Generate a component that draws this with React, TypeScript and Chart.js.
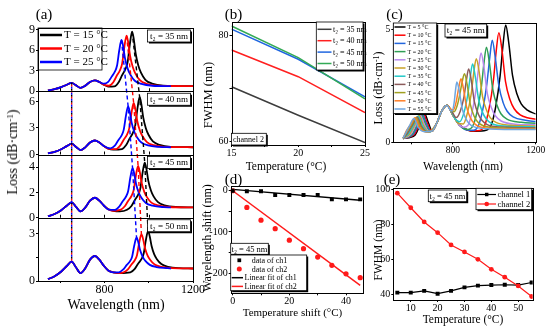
import { useEffect, useRef } from 'react';
import { Chart, registerables } from 'chart.js';

Chart.register(...registerables);

const SERIF = "'Liberation Serif', 'Times New Roman', 'DejaVu Serif', serif";
Chart.defaults.font.family = SERIF;
Chart.defaults.color = '#000';

type Pt = [number, number];

// ---------------- Panel (a): loss spectra, four t2 values ----------------
const aLegendLabels = ['T = 15 °C', 'T = 20 °C', 'T = 25 °C'];
const aColors = ['#000000', '#ff0000', '#0000ff'];
const aT2Labels = ['t₂ = 35 nm', 't₂ = 40 nm', 't₂ = 45 nm', 't₂ = 50 nm'];
const aXTicks = [600, 800, 1000, 1200];
const aXLabels = [800, 1200];
const aYMin = [0, 0, 0, 0];
const aYMax = [9.2, 7.15, 5, 4];
const aYTicks = [[0, 3, 6, 9], [0, 3, 6], [0, 2, 4], [0, 1.5, 3]];
const aYLabels = [[0, 3, 6, 9], [0, 3, 6], [0, 2, 4], [0, 3]];

// shared short-wavelength part (channel 1 region)
const aLow: Pt[] = [[545, 0.12], [575, 0.3], [605, 0.6], [630, 0.95], [652, 1.22], [672, 0.85], [692, 0.5], [712, 0.78], [735, 1.35], [757, 1.58], [777, 1.35], [797, 0.97], [817, 0.67], [840, 0.55], [870, 0.5]];

const a35_15: Pt[] = [[845, 0.71], [865, 1.36], [880, 2.34], [895, 3.23], [905, 4.29], [915, 6.88], [925, 8.67], [933, 7.48], [941, 5.49], [953, 3.74], [965, 2.71], [985, 1.67], [1015, 1.12], [1065, 0.82], [1200, 0.74]];
const a35_20: Pt[] = [[820, 0.8], [840, 1.31], [855, 2.21], [870, 3.04], [880, 4.02], [890, 6.44], [900, 8.1], [908, 6.99], [916, 5.15], [928, 3.52], [940, 2.57], [960, 1.61], [990, 1.09], [1040, 0.8], [1200, 0.74]];
const a35_25: Pt[] = [[797, 1.1], [817, 1.36], [832, 2.09], [847, 2.84], [857, 3.74], [867, 5.96], [877, 7.48], [885, 6.47], [893, 4.78], [905, 3.29], [917, 2.41], [937, 1.53], [967, 1.06], [1017, 0.8], [1100, 0.74]];

const a40_15: Pt[] = [[879, 0.62], [899, 1.1], [914, 1.82], [929, 2.48], [939, 3.26], [949, 5.18], [959, 6.5], [967, 5.65], [975, 4.22], [987, 2.97], [999, 2.23], [1019, 1.48], [1049, 1.09], [1099, 0.87], [1200, 0.82]];
const a40_20: Pt[] = [[852, 0.61], [872, 1.03], [887, 1.67], [902, 2.26], [912, 2.95], [922, 4.66], [932, 5.83], [940, 5.08], [948, 3.82], [960, 2.71], [972, 2.06], [992, 1.4], [1022, 1.05], [1072, 0.86], [1200, 0.82]];
const a40_25: Pt[] = [[827, 0.7], [847, 1.0], [862, 1.59], [877, 2.13], [887, 2.78], [897, 4.36], [907, 5.45], [915, 4.75], [923, 3.59], [935, 2.57], [947, 1.96], [967, 1.36], [997, 1.03], [1047, 0.86], [1100, 0.82]];

const a45_15: Pt[] = [[902, 0.63], [922, 0.93], [937, 1.39], [952, 1.81], [962, 2.3], [972, 3.52], [982, 4.36], [990, 3.83], [998, 2.94], [1010, 2.15], [1022, 1.69], [1042, 1.23], [1072, 0.98], [1122, 0.85], [1200, 0.82]];
const a45_20: Pt[] = [[872, 0.62], [892, 0.91], [907, 1.33], [922, 1.72], [932, 2.18], [942, 3.32], [952, 4.1], [960, 3.6], [968, 2.78], [980, 2.05], [992, 1.63], [1012, 1.2], [1042, 0.97], [1092, 0.85], [1200, 0.82]];
const a45_25: Pt[] = [[847, 0.62], [867, 0.89], [882, 1.29], [897, 1.66], [907, 2.1], [917, 3.18], [927, 3.92], [935, 3.45], [943, 2.67], [955, 1.99], [967, 1.58], [987, 1.17], [1017, 0.96], [1067, 0.84], [1100, 0.82]];

const a50_15: Pt[] = [[917, 0.55], [937, 0.77], [952, 1.09], [967, 1.38], [977, 1.72], [987, 2.57], [997, 3.16], [1005, 2.8], [1013, 2.21], [1025, 1.68], [1037, 1.38], [1057, 1.07], [1087, 0.9], [1137, 0.81], [1200, 0.79]];
const a50_20: Pt[] = [[887, 0.55], [907, 0.75], [922, 1.04], [937, 1.31], [947, 1.63], [957, 2.42], [967, 2.96], [975, 2.63], [983, 2.09], [995, 1.61], [1007, 1.33], [1027, 1.04], [1057, 0.89], [1107, 0.81], [1200, 0.79]];
const a50_25: Pt[] = [[865, 0.55], [885, 0.73], [900, 1.0], [915, 1.24], [925, 1.54], [935, 2.26], [945, 2.75], [953, 2.45], [961, 1.96], [973, 1.53], [985, 1.27], [1005, 1.02], [1035, 0.88], [1085, 0.81], [1100, 0.79]];

const aCurves: Pt[][][] = [
  [a35_15, a35_20, a35_25],
  [a40_15, a40_20, a40_25],
  [a45_15, a45_20, a45_25],
  [a50_15, a50_20, a50_25],
];

// ---------------- Panel (b): FWHM vs temperature ----------------
const bTemps = [15, 20, 25];
const bT2_35 = [70.3, 64.9, 59.7];
const bT2_40 = [77.25, 72.2, 65.4];
const bT2_45 = [81.2, 75.5, 68.4];
const bT2_50 = [81.8, 75.8, 68.0];
const bLabels = ['t₂ = 35 nm', 't₂ = 40 nm', 't₂ = 45 nm', 't₂ = 50 nm'];
const bColors = ['#3d3d3d', '#ff2020', '#1f66e0', '#33aa55'];

// ---------------- Panel (c): loss spectra, t2 = 45 nm ----------------
const cLabels = ['T = 5 °C', 'T = 10 °C', 'T = 15 °C', 'T = 20 °C', 'T = 25 °C', 'T = 30 °C', 'T = 35 °C', 'T = 40 °C', 'T = 45 °C', 'T = 50 °C', 'T = 55 °C'];
const cColors = ['#000000', '#ff0000', '#2266dd', '#2f9e55', '#b888ee', '#c9a227', '#22c8c8', '#8b5a5a', '#a0a020', '#ff7f27', '#6ea6e0'];
const cT5: Pt[] = [[559, 0.17], [617, 0.32], [642, 0.8], [662, 1.28], [682, 0.85], [700, 0.5], [722, 0.85], [746, 1.38], [771, 1.64], [800, 1.2], [830, 0.78], [870, 0.54], [910, 0.49], [960, 0.53], [985, 0.76], [1007, 1.58], [1028, 2.92], [1042, 4.29], [1055, 5.18], [1070, 4.38], [1088, 2.95], [1110, 2.12], [1130, 1.7], [1160, 1.42], [1200, 1.25]];
const cT10: Pt[] = [[559, 0.17], [612, 0.33], [637, 0.8], [657, 1.27], [677, 0.83], [697, 0.49], [722, 0.85], [746, 1.38], [771, 1.64], [800, 1.2], [830, 0.78], [870, 0.54], [900, 0.5], [929, 0.52], [953, 0.74], [975, 1.5], [996, 2.75], [1009, 4.01], [1022, 4.84], [1037, 4.07], [1054, 2.69], [1076, 1.88], [1096, 1.48], [1125, 1.21], [1160, 1.08], [1200, 1.02]];
const cT15: Pt[] = [[559, 0.17], [607, 0.34], [632, 0.8], [652, 1.25], [672, 0.82], [694, 0.48], [722, 0.85], [746, 1.38], [771, 1.64], [800, 1.2], [830, 0.78], [870, 0.54], [899, 0.53], [923, 0.73], [944, 1.43], [964, 2.58], [978, 3.74], [990, 4.5], [1004, 3.78], [1022, 2.5], [1043, 1.74], [1062, 1.37], [1091, 1.12], [1150, 0.97], [1200, 0.92]];
const cT20: Pt[] = [[559, 0.17], [602, 0.35], [627, 0.8], [647, 1.23], [667, 0.8], [690, 0.47], [722, 0.85], [746, 1.38], [771, 1.64], [800, 1.2], [830, 0.78], [850, 0.62], [873, 0.57], [896, 0.72], [917, 1.36], [937, 2.41], [950, 3.49], [962, 4.2], [976, 3.53], [993, 2.32], [1014, 1.61], [1032, 1.26], [1061, 1.02], [1130, 0.88], [1200, 0.84]];
const cT25: Pt[] = [[559, 0.17], [597, 0.36], [622, 0.8], [642, 1.2], [662, 0.78], [686, 0.47], [722, 0.85], [746, 1.38], [771, 1.64], [800, 1.2], [830, 0.78], [849, 0.66], [872, 0.74], [892, 1.31], [911, 2.28], [924, 3.28], [936, 3.94], [950, 3.31], [966, 2.16], [987, 1.5], [1005, 1.17], [1033, 0.94], [1100, 0.8], [1200, 0.77]];
const cT30: Pt[] = [[559, 0.17], [592, 0.38], [617, 0.8], [637, 1.18], [657, 0.76], [682, 0.47], [722, 0.85], [746, 1.38], [771, 1.64], [800, 1.2], [827, 0.83], [850, 0.81], [870, 1.29], [889, 2.17], [901, 3.09], [913, 3.69], [927, 3.1], [943, 2.03], [963, 1.4], [980, 1.09], [1008, 0.88], [1080, 0.75], [1200, 0.72]];
const cT35: Pt[] = [[559, 0.17], [587, 0.4], [612, 0.8], [632, 1.15], [652, 0.74], [678, 0.47], [700, 0.5], [722, 0.85], [746, 1.38], [771, 1.64], [795, 1.33], [811, 1.03], [833, 0.91], [853, 1.3], [871, 2.06], [884, 2.9], [895, 3.46], [908, 2.9], [924, 1.9], [943, 1.32], [961, 1.03], [987, 0.83], [1060, 0.71], [1200, 0.68]];
const cT40: Pt[] = [[559, 0.17], [582, 0.42], [607, 0.8], [627, 1.12], [647, 0.72], [674, 0.47], [700, 0.5], [722, 0.85], [746, 1.38], [771, 1.64], [794, 1.38], [816, 1.09], [835, 1.36], [853, 1.98], [865, 2.73], [876, 3.24], [889, 2.72], [904, 1.78], [923, 1.24], [940, 0.97], [966, 0.78], [1040, 0.67], [1200, 0.64]];
const cT45: Pt[] = [[559, 0.18], [577, 0.45], [602, 0.8], [622, 1.1], [642, 0.7], [670, 0.47], [700, 0.5], [722, 0.85], [746, 1.38], [771, 1.64], [790, 1.45], [806, 1.35], [820, 1.6], [833, 2.1], [845, 2.68], [856, 3.02], [869, 2.54], [884, 1.67], [902, 1.16], [919, 0.91], [944, 0.74], [1020, 0.64], [1200, 0.61]];
const cT50: Pt[] = [[559, 0.18], [575, 0.5], [597, 0.8], [617, 1.08], [637, 0.68], [666, 0.47], [700, 0.5], [722, 0.85], [746, 1.38], [771, 1.64], [789, 1.46], [802, 1.42], [815, 1.75], [828, 2.4], [839, 2.8], [851, 2.36], [866, 1.56], [884, 1.09], [900, 0.86], [925, 0.7], [1000, 0.61], [1200, 0.58]];
const cT55: Pt[] = [[559, 0.18], [590, 0.72], [612, 1.05], [632, 0.66], [662, 0.47], [700, 0.5], [722, 0.85], [746, 1.38], [771, 1.64], [785, 1.45], [796, 1.38], [806, 1.75], [812, 2.25], [819, 2.66], [831, 2.24], [845, 1.48], [863, 1.04], [879, 0.82], [903, 0.68], [980, 0.59], [1200, 0.56]];
const cCurves: Pt[][] = [cT5, cT10, cT15, cT20, cT25, cT30, cT35, cT40, cT45, cT50, cT55];

// ---------------- Panel (d): wavelength shift ----------------
const dShift = [0, 5, 10, 15, 20, 25, 30, 35, 40, 45];
const dCh1 = [0, -1, -1, -10.5, -10.5, -10.5, -10.5, -21, -21, -21];
const dCh2 = [0, -40.5, -71.5, -92, -120, -140.6, -161, -181, -201.6, -211];
const dFitX = [0, 45];
const dFitCh1 = [3.3, -22.8];
const dFitCh2 = [0, -230];

// ---------------- Panel (e): FWHM of both channels ----------------
const eTemps = [5, 10, 15, 20, 25, 30, 35, 40, 45, 50, 55];
const eCh1 = [41, 41, 42, 40.4, 42, 44, 45, 45.3, 45.5, 45.3, 46.8];
const eCh2 = [97.7, 89.4, 81.3, 75.2, 68.2, 64.2, 60, 54.3, 49.8, 44.8, 38.8];

// ---------------- helpers ----------------
const toXY = (pts: Pt[]) => pts.map(([x, y]) => ({ x, y }));
const zipXY = (xs: number[], ys: number[]) => xs.map((x, i) => ({ x, y: ys[i] }));
const peakOf = (pts: Pt[]): Pt => pts.reduce((m, p) => (p[1] > m[1] ? p : m), pts[0]);
const combine = (low: Pt[], main: Pt[]) => low.filter((p) => p[0] < main[0][0] - 15).concat(main);
const font = (s: number) => `${s}px ${SERIF}`;

function axis(o: { min: number; max: number; ticks: number[]; labels: number[]; size: number; font: number; horizontal: boolean }) {
  return {
    type: 'linear' as const,
    min: o.min,
    max: o.max,
    afterBuildTicks: (ax: any) => {
      ax.ticks = o.ticks.map((v) => ({ value: v }));
    },
    afterFit: (ax: any) => {
      if (o.horizontal) ax.height = o.size;
      else ax.width = o.size;
      ax.paddingTop = 0;
      ax.paddingBottom = 0;
      ax.paddingLeft = 0;
      ax.paddingRight = 0;
    },
    ticks: {
      autoSkip: false,
      maxRotation: 0,
      minRotation: 0,
      padding: o.horizontal ? 0 : 1,
      font: { family: SERIF, size: o.font },
      color: '#000',
      callback: (v: any) => (o.labels.includes(Number(v)) ? String(v) : ''),
    },
    grid: { drawOnChartArea: false, drawTicks: true, tickLength: 2, color: '#000', lineWidth: 1 },
    border: { display: false },
  };
}

function base(padTop: number, padRight: number) {
  return {
    animation: false as const,
    responsive: false,
    maintainAspectRatio: false,
    devicePixelRatio: 1,
    events: [] as any[],
    layout: { padding: { top: padTop, right: padRight, bottom: 0, left: 0 } },
    plugins: { legend: { display: false }, tooltip: { enabled: false }, title: { display: false } },
  };
}

function frameRect(ctx: CanvasRenderingContext2D, l: number, t: number, r: number, b: number) {
  ctx.save();
  ctx.strokeStyle = '#000';
  ctx.lineWidth = 1;
  ctx.setLineDash([]);
  const L = Math.round(l), T = Math.round(t), R = Math.round(r), B = Math.round(b);
  ctx.strokeRect(L + 0.5, T + 0.5, R - L, B - T);
  ctx.restore();
}

type Box = { x: number; y: number; w: number; h: number; shadow?: boolean; fill?: boolean };
type TextBox = Box & { text: string; size: number; align?: 'left' | 'center'; pad?: number };
type LegendItem = { text: string; color: string; line?: boolean; marker?: 'rect' | 'circle'; textX?: number };
type Legend = { box?: Box; items: LegendItem[]; rowY: number[]; sx0: number; sx1: number; mx: number; tx: number; size: number; lineWidth: number; markerR?: number };

function drawBox(ctx: CanvasRenderingContext2D, b: Box) {
  ctx.save();
  ctx.setLineDash([]);
  if (b.shadow) {
    ctx.fillStyle = '#000';
    ctx.fillRect(b.x + 1.5, b.y + 1.5, b.w, b.h);
  }
  if (b.fill !== false) {
    ctx.fillStyle = '#fff';
    ctx.fillRect(b.x, b.y, b.w, b.h);
  }
  ctx.strokeStyle = '#000';
  ctx.lineWidth = 0.8;
  ctx.strokeRect(b.x, b.y, b.w, b.h);
  ctx.restore();
}

function drawTextBox(ctx: CanvasRenderingContext2D, tb: TextBox) {
  drawBox(ctx, tb);
  ctx.save();
  ctx.fillStyle = '#000';
  ctx.font = font(tb.size);
  ctx.textBaseline = 'middle';
  if (tb.align === 'left') {
    ctx.textAlign = 'left';
    ctx.fillText(tb.text, tb.x + (tb.pad ?? 2), tb.y + tb.h / 2 + 0.5);
  } else {
    ctx.textAlign = 'center';
    ctx.fillText(tb.text, tb.x + tb.w / 2, tb.y + tb.h / 2 + 0.5);
  }
  ctx.restore();
}

function drawLegend(ctx: CanvasRenderingContext2D, L: Legend) {
  if (L.box) drawBox(ctx, L.box);
  ctx.save();
  ctx.setLineDash([]);
  ctx.font = font(L.size);
  ctx.textBaseline = 'middle';
  ctx.textAlign = 'left';
  L.items.forEach((it, i) => {
    const y = L.rowY[i];
    if (it.line) {
      ctx.strokeStyle = it.color;
      ctx.lineWidth = L.lineWidth;
      ctx.beginPath();
      ctx.moveTo(L.sx0, y);
      ctx.lineTo(L.sx1, y);
      ctx.stroke();
    }
    if (it.marker) {
      const r = L.markerR ?? 2.5;
      ctx.fillStyle = it.color;
      ctx.beginPath();
      if (it.marker === 'rect') ctx.rect(L.mx - r * 0.75, y - r * 0.75, r * 1.5, r * 1.5);
      else ctx.arc(L.mx, y, r, 0, Math.PI * 2);
      ctx.fill();
    }
    ctx.fillStyle = '#000';
    ctx.fillText(it.text, it.textX ?? L.tx, y + 0.5);
  });
  ctx.restore();
}

function decor(spec: { boxes?: TextBox[]; legend?: Legend }) {
  return {
    id: 'decor',
    afterDraw(chart: any) {
      const ca = chart.chartArea;
      frameRect(chart.ctx, ca.left, ca.top, ca.right, ca.bottom);
      (spec.boxes || []).forEach((b) => drawTextBox(chart.ctx, b));
      if (spec.legend) drawLegend(chart.ctx, spec.legend);
    },
  };
}

// ---------------- charts ----------------
function makeA(canvas: HTMLCanvasElement) {
  const datasets = aCurves.flatMap((set, s) =>
    set.map((main, c) => ({
      data: toXY(combine(aLow, main)),
      xAxisID: 'x',
      yAxisID: 'y' + s,
      borderColor: aColors[c],
      backgroundColor: aColors[c],
      borderWidth: 1.8,
      pointRadius: 0,
      fill: false,
      cubicInterpolationMode: 'monotone' as const,
      order: 2 - c,
    }))
  );
  const scales: any = {
    x: { ...axis({ min: 500, max: 1200, ticks: aXTicks, labels: aXLabels, size: 19, font: 12, horizontal: true }), position: 'bottom' },
  };
  aCurves.forEach((_, s) => {
    scales['y' + s] = {
      ...axis({ min: aYMin[s], max: aYMax[s], ticks: aYTicks[s], labels: aYLabels[s], size: 38, font: 12, horizontal: false }),
      position: 'left',
      stack: 'a',
      stackWeight: 1,
      weight: 4 - s,
    };
  });
  const plugin = {
    id: 'aDecor',
    afterDatasetsDraw(chart: any) {
      const ctx: CanvasRenderingContext2D = chart.ctx;
      const xs = chart.scales.x;
      ctx.save();
      ctx.lineWidth = 1.4;
      ctx.setLineDash([4, 3]);
      aColors.forEach((col, c) => {
        ctx.strokeStyle = col;
        ctx.beginPath();
        aCurves.forEach((set, s) => {
          const [px, py] = peakOf(set[c]);
          const X = xs.getPixelForValue(px);
          const Y = chart.scales['y' + s].getPixelForValue(py);
          if (s === 0) ctx.moveTo(X, Y);
          else ctx.lineTo(X, Y);
        });
        ctx.stroke();
      });
      const sp = peakOf(aLow.filter((p) => p[0] < 700));
      const X = xs.getPixelForValue(sp[0]);
      const Y0 = chart.scales.y0.getPixelForValue(sp[1]);
      const Y3 = chart.scales.y3.getPixelForValue(sp[1]);
      ctx.setLineDash([2, 4]);
      aColors.forEach((col, c) => {
        ctx.strokeStyle = col;
        ctx.lineDashOffset = -2 * c;
        ctx.beginPath();
        ctx.moveTo(X, Y0);
        ctx.lineTo(X, Y3);
        ctx.stroke();
      });
      ctx.restore();
    },
    afterDraw(chart: any) {
      const ctx: CanvasRenderingContext2D = chart.ctx;
      const ca = chart.chartArea;
      const xs = chart.scales.x;
      aCurves.forEach((_, s) => {
        const ys = chart.scales['y' + s];
        frameRect(ctx, ca.left, ys.top, ca.right, ys.bottom);
        if (s < 3) {
          ctx.save();
          ctx.strokeStyle = '#000';
          ctx.lineWidth = 1;
          ctx.beginPath();
          aXTicks.forEach((v) => {
            const X = Math.round(xs.getPixelForValue(v)) + 0.5;
            ctx.moveTo(X, ys.bottom);
            ctx.lineTo(X, ys.bottom - 3);
          });
          ctx.stroke();
          ctx.restore();
        }
        drawTextBox(ctx, { x: ca.right - 45.5, y: ys.top + 2, w: 43, h: 12, text: aT2Labels[s], size: 9, shadow: true });
      });
      drawLegend(ctx, {
        box: { x: ca.left, y: ca.top, w: 64, h: 42, shadow: false, fill: false },
        items: aLegendLabels.map((t, i) => ({ text: t, color: aColors[i], line: true })),
        rowY: [35, 48.5, 62],
        sx0: ca.left + 2,
        sx1: ca.left + 24,
        mx: 0,
        tx: ca.left + 26,
        size: 11,
        lineWidth: 2.5,
      });
    },
  };
  return new Chart(canvas, { type: 'line', data: { datasets }, options: { ...base(28, 22), scales } as any, plugins: [plugin] });
}

function makeB(canvas: HTMLCanvasElement) {
  const series = [bT2_35, bT2_40, bT2_45, bT2_50];
  const datasets = series.map((arr, i) => ({
    data: zipXY(bTemps, arr),
    borderColor: bColors[i],
    backgroundColor: bColors[i],
    borderWidth: 1.5,
    pointRadius: 0,
    fill: false,
    tension: 0,
    order: 3 - i,
  }));
  return new Chart(canvas, {
    type: 'line',
    data: { datasets },
    options: {
      ...base(22, 7),
      scales: {
        x: axis({ min: 15, max: 25, ticks: [15, 17.5, 20, 22.5, 25], labels: [15, 20, 25], size: 20, font: 10, horizontal: true }),
        y: axis({ min: 59.26, max: 82.56, ticks: [60, 70, 80], labels: [60, 80], size: 31.5, font: 10, horizontal: false }),
      },
    } as any,
    plugins: [
      decor({
        boxes: [{ x: 31.5, y: 133.3, w: 34.8, h: 11.7, text: 'channel 2', size: 8, align: 'left', pad: 1.5, shadow: true }],
        legend: {
          box: { x: 116.3, y: 22, w: 46.7, h: 48, shadow: true },
          items: bLabels.map((t, i) => ({ text: t, color: bColors[i], line: true })),
          rowY: [29.3, 40.7, 52.1, 63.5],
          sx0: 117.5,
          sx1: 131.5,
          mx: 0,
          tx: 133,
          size: 8,
          lineWidth: 1.5,
        },
      }),
    ],
  });
}

function makeC(canvas: HTMLCanvasElement) {
  const datasets = cCurves.map((pts, i) => ({
    data: toXY(pts),
    borderColor: cColors[i],
    backgroundColor: cColors[i],
    borderWidth: 1.5,
    pointRadius: 0,
    fill: false,
    cubicInterpolationMode: 'monotone' as const,
    order: cCurves.length - 1 - i,
  }));
  return new Chart(canvas, {
    type: 'line',
    data: { datasets },
    options: {
      ...base(23, 14.3),
      scales: {
        x: axis({ min: 512, max: 1200, ticks: [600, 800, 1000, 1200], labels: [800, 1200], size: 22.7, font: 9.5, horizontal: true }),
        y: axis({ min: 0, max: 5.265, ticks: [0, 2.5, 5], labels: [0, 5], size: 23.3, font: 9.5, horizontal: false }),
      },
    } as any,
    plugins: [
      decor({
        boxes: [{ x: 75, y: 24, w: 41.7, h: 13, text: 't₂ = 45 nm', size: 9, shadow: true }],
        legend: {
          box: { x: 23.3, y: 23, w: 43.4, h: 90.5, shadow: true },
          items: cLabels.map((t, i) => ({ text: t, color: cColors[i], line: true })),
          rowY: cLabels.map((_, i) => 27 + i * 8.2),
          sx0: 24.5,
          sx1: 35.5,
          mx: 0,
          tx: 37.5,
          size: 6,
          lineWidth: 1.5,
        },
      }),
    ],
  });
}

function makeD(canvas: HTMLCanvasElement) {
  const datasets = [
    { data: zipXY(dShift, dCh1), showLine: false, pointStyle: 'rect', pointRadius: 2.8, backgroundColor: '#000', borderColor: '#000', borderWidth: 0, order: 0 },
    { data: zipXY(dShift, dCh2), showLine: false, pointStyle: 'circle', pointRadius: 2.6, backgroundColor: '#ff1a1a', borderColor: '#ff1a1a', borderWidth: 0, order: 0 },
    { data: zipXY(dFitX, dFitCh1), borderColor: '#000', backgroundColor: '#000', borderWidth: 1.5, pointRadius: 0, fill: false, order: 1 },
    { data: zipXY(dFitX, dFitCh2), borderColor: '#ff1a1a', backgroundColor: '#ff1a1a', borderWidth: 1.5, pointRadius: 0, fill: false, order: 1 },
  ];
  return new Chart(canvas, {
    type: 'line',
    data: { datasets } as any,
    options: {
      ...base(10, 8.7),
      scales: {
        x: axis({ min: -0.7, max: 46.1, ticks: [0, 10, 20, 30, 40], labels: [0, 20, 40], size: 36.7, font: 10, horizontal: true }),
        y: axis({ min: -249, max: 11.5, ticks: [-200, -150, -100, -50, 0], labels: [-200, -100, 0], size: 30.7, font: 10, horizontal: false }),
      },
    } as any,
    plugins: [
      decor({
        boxes: [{ x: 30.7, y: 67.3, w: 37.6, h: 11, text: 't₂ = 45 nm', size: 8.5, shadow: true }],
        legend: {
          box: { x: 30.7, y: 79, w: 76, h: 35.7, shadow: true },
          items: [
            { text: 'data of ch1', color: '#000', marker: 'rect', textX: 51.7 },
            { text: 'data of ch2', color: '#ff1a1a', marker: 'circle', textX: 51.7 },
            { text: 'Linear fit of ch1', color: '#000', line: true },
            { text: 'Linear fit of ch2', color: '#ff1a1a', line: true },
          ],
          rowY: [84.3, 93, 101.7, 110.4],
          sx0: 31.7,
          sx1: 43,
          mx: 39.3,
          tx: 44.5,
          size: 8,
          lineWidth: 1.5,
          markerR: 2.5,
        },
      }),
    ],
  });
}

function makeE(canvas: HTMLCanvasElement) {
  const datasets = [
    { data: zipXY(eTemps, eCh1), borderColor: '#000', backgroundColor: '#000', borderWidth: 1.2, pointStyle: 'rect', pointRadius: 2.8, pointBorderWidth: 0, fill: false, order: 1 },
    { data: zipXY(eTemps, eCh2), borderColor: '#ff1a1a', backgroundColor: '#ff1a1a', borderWidth: 1.2, pointStyle: 'circle', pointRadius: 2.4, pointBorderWidth: 0, fill: false, order: 0 },
  ];
  return new Chart(canvas, {
    type: 'line',
    data: { datasets } as any,
    options: {
      ...base(12.3, 17.3),
      scales: {
        x: axis({ min: 3.5, max: 55.4, ticks: [10, 20, 30, 40, 50], labels: [10, 20, 30, 40, 50], size: 30, font: 10, horizontal: true }),
        y: axis({ min: 36.8, max: 100.5, ticks: [40, 60, 80, 100], labels: [40, 60, 80, 100], size: 23.3, font: 10, horizontal: false }),
      },
    } as any,
    plugins: [
      decor({
        boxes: [{ x: 58.3, y: 14, w: 38.4, h: 11.7, text: 't₂ = 45 nm', size: 8.5, shadow: true }],
        legend: {
          box: { x: 106, y: 12.3, w: 55.7, h: 21.4, shadow: true },
          items: [
            { text: 'channel 1', color: '#000', line: true, marker: 'rect' },
            { text: 'channel 2', color: '#ff1a1a', line: true, marker: 'circle' },
          ],
          rowY: [18.5, 28],
          sx0: 107.3,
          sx1: 126,
          mx: 116.7,
          tx: 127.5,
          size: 8.5,
          lineWidth: 1.2,
          markerR: 2.3,
        },
      }),
    ],
  });
}

function Label(p: { x: number; y: number; size: number; rot?: boolean; children: any }) {
  return (
    <div
      style={{
        position: 'absolute',
        left: p.x,
        top: p.y,
        transform: `translate(-50%, -50%)${p.rot ? ' rotate(-90deg)' : ''}`,
        fontSize: p.size,
        lineHeight: 1,
        whiteSpace: 'nowrap',
        fontFamily: SERIF,
        color: '#000',
      }}
    >
      {p.children}
    </div>
  );
}

const sup = { fontSize: '0.65em', verticalAlign: '0.45em', lineHeight: 0 } as const;

export default function App() {
  const aRef = useRef<HTMLCanvasElement>(null);
  const bRef = useRef<HTMLCanvasElement>(null);
  const cRef = useRef<HTMLCanvasElement>(null);
  const dRef = useRef<HTMLCanvasElement>(null);
  const eRef = useRef<HTMLCanvasElement>(null);

  useEffect(() => {
    const charts = [makeA(aRef.current!), makeB(bRef.current!), makeC(cRef.current!), makeD(dRef.current!), makeE(eRef.current!)];
    return () => charts.forEach((c) => c.destroy());
  }, []);

  const cv = (left: number, top: number, w: number, h: number) => ({ position: 'absolute' as const, left, top, width: w, height: h });

  return (
    <div style={{ position: 'fixed', left: 0, top: 0, width: 550, height: 330, background: '#fff', overflow: 'hidden' }}>
      <canvas ref={aRef} width={215} height={300} style={cv(0, 0, 215, 300)} />
      <canvas ref={bRef} width={172} height={165} style={cv(200, 0, 172, 165)} />
      <canvas ref={cRef} width={180} height={165} style={cv(370, 0, 180, 165)} />
      <canvas ref={dRef} width={172} height={154} style={cv(200, 176, 172, 154)} />
      <canvas ref={eRef} width={180} height={154} style={cv(370, 176, 180, 154)} />

      <Label x={44} y={14} size={15}>(a)</Label>
      <Label x={233.5} y={14} size={15}>(b)</Label>
      <Label x={394.5} y={14} size={15}>(c)</Label>
      <Label x={233.5} y={179} size={15}>(d)</Label>
      <Label x={392} y={179} size={15}>(e)</Label>

      <Label x={13} y={152} size={14} rot>
        Loss (dB·cm<span style={sup}>-1</span>)
      </Label>
      <Label x={116} y={305} size={14}>Wavelength (nm)</Label>

      <Label x={207.5} y={95} size={12.5} rot>FWHM (nm)</Label>
      <Label x={286} y={166.5} size={11.5}>Temperature (°C)</Label>

      <Label x={377.5} y={87.5} size={12} rot>
        Loss (dB·cm<span style={sup}>-1</span>)
      </Label>
      <Label x={463} y={166.5} size={11.5}>Wavelength (nm)</Label>

      <Label x={206.5} y={237.5} size={12} rot>Wavelength shift (nm)</Label>
      <Label x={292.5} y={311.7} size={11}>Temperature shift (°C)</Label>

      <Label x={379} y={250} size={11.5} rot>FWHM (nm)</Label>
      <Label x={463} y={320} size={11.5}>Temperature (°C)</Label>
    </div>
  );
}
